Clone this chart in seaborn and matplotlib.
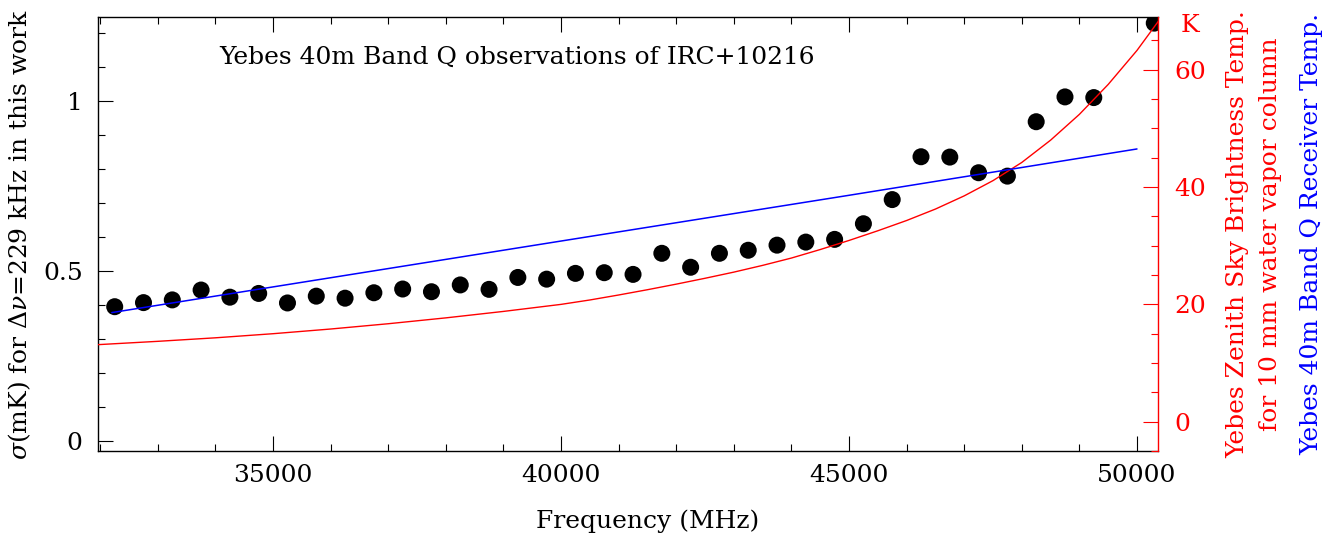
import matplotlib
matplotlib.use("Agg")
import matplotlib.pyplot as plt
import numpy as np
import pandas as pd
import seaborn as sns
from matplotlib.ticker import MultipleLocator, FixedLocator, FuncFormatter

# ---------------- data ----------------
obs_freq = [32250, 32750, 33250, 33750, 34250, 34750, 35250, 35750, 36250, 36750,
            37250, 37750, 38250, 38750, 39250, 39750, 40250, 40750, 41250, 41750,
            42250, 42750, 43250, 43750, 44250, 44750, 45250, 45750, 46250, 46750,
            47250, 47750, 48250, 48750, 49250, 50300]
obs_sigma = [0.395, 0.407, 0.415, 0.444, 0.423, 0.434, 0.406, 0.426, 0.420, 0.436,
             0.447, 0.439, 0.459, 0.446, 0.481, 0.476, 0.493, 0.495, 0.490, 0.552,
             0.511, 0.552, 0.561, 0.576, 0.585, 0.593, 0.639, 0.710, 0.836, 0.835,
             0.789, 0.779, 0.939, 1.012, 1.010, 1.229]

sky_freq = [31900, 33000, 34000, 35000, 36000, 37000, 38000, 39000, 40000, 40500,
            41000, 41500, 42000, 42500, 43000, 43500, 44000, 44500, 45000, 45500,
            46000, 46500, 47000, 47500, 48000, 48500, 49000, 49500, 50000, 50500]
sky_temp = [13.1, 13.7, 14.3, 15.0, 15.8, 16.7, 17.7, 18.8, 20.0, 20.75,
            21.6, 22.5, 23.45, 24.45, 25.5, 26.65, 27.9, 29.35, 30.9, 32.55,
            34.3, 36.25, 38.5, 41.1, 44.2, 48.0, 52.4, 57.5, 63.3, 70.0]

rx_freq = [32200, 40000, 45000, 50000]
rx_temp = [18.6, 30.8, 38.6, 46.5]

x_major_ticks = [35000, 40000, 45000, 50000]
y_left_ticks = [0, 0.5, 1]
y_left_labels = ["0", "0.5", "1"]
y_right_ticks = [0, 20, 40, 60]

title_text = "Yebes 40m Band Q observations of IRC+10216"
xlabel_text = "Frequency (MHz)"
ylabel_text = r"$\sigma$(mK) for $\Delta\nu$=229 kHz in this work"
rlabel1 = "Yebes Zenith Sky Brightness Temp."
rlabel2 = "for 10 mm water vapor column"
rlabel3 = "Yebes 40m Band Q Receiver Temp."

# ---------------- style ----------------
sns.set_style("ticks")
plt.rcParams['font.family'] = ['DejaVu Serif']
plt.rcParams['mathtext.fontset'] = 'dejavuserif'
plt.rcParams['text.color'] = 'black'
plt.rcParams['axes.labelcolor'] = 'black'
FS = 18

W, H = 1335, 540
fig = plt.figure(figsize=(W / 100, H / 100), dpi=100)
L, R, T, B = 98, 1158, 17, 451
ax = fig.add_axes([L / W, 1 - B / H, (R - L) / W, (B - T) / H])
ax2 = ax.twinx()

df_obs = pd.DataFrame({"freq": obs_freq, "sigma": obs_sigma})
df_sky = pd.DataFrame({"freq": sky_freq, "temp": sky_temp})
df_rx = pd.DataFrame({"freq": rx_freq, "temp": rx_temp})

sns.scatterplot(data=df_obs, x="freq", y="sigma", ax=ax, s=150, color="black",
                edgecolor="none", linewidth=0, zorder=3)
sns.lineplot(data=df_sky, x="freq", y="temp", ax=ax2, color="red", lw=1.0)
sns.lineplot(data=df_rx, x="freq", y="temp", ax=ax2, color="blue", lw=1.1)

ax.set_xlim(31960, 50365)
ax.set_ylim(-0.0294, 1.247)
ax2.set_ylim(-5.0, 69.0)

for a in (ax, ax2):
    a.set_xlabel("")
    a.set_ylabel("")

# ticks
ax.xaxis.set_major_locator(FixedLocator(x_major_ticks))
ax.xaxis.set_minor_locator(MultipleLocator(1000))
ax.yaxis.set_major_locator(FixedLocator(y_left_ticks))
ax.yaxis.set_major_formatter(FuncFormatter(
    lambda v, p: y_left_labels[y_left_ticks.index(v)] if v in y_left_ticks else ""))
ax.yaxis.set_minor_locator(MultipleLocator(0.1))
ax.xaxis.set_major_formatter(FuncFormatter(lambda v, p: f"{int(v)}"))

ax.tick_params(which="both", direction="in", top=True, right=False,
               labelsize=FS, colors="black", width=0.8)
ax.tick_params(which="major", length=10.8)
ax.tick_params(which="minor", length=5.0)
ax.tick_params(axis="x", pad=9)
ax.tick_params(axis="y", pad=11)

ax2.yaxis.set_major_locator(FixedLocator(y_right_ticks))
ax2.yaxis.set_minor_locator(MultipleLocator(5))
ax2.tick_params(which="both", direction="in", colors="red", labelsize=FS,
                width=0.8, pad=12)
ax2.tick_params(which="major", length=10.8)
ax2.tick_params(which="minor", length=5.0)

# spines
for s in ("left", "top", "bottom"):
    ax.spines[s].set_color("black")
    ax.spines[s].set_linewidth(1.0)
    ax2.spines[s].set_visible(False)
ax.spines["right"].set_visible(False)
ax2.spines["right"].set_color("red")
ax2.spines["right"].set_linewidth(1.0)

# texts
ax.text((219 - L) / (R - L), (B - 64) / (B - T), title_text, transform=ax.transAxes,
        fontsize=FS, va="baseline", ha="left", color="black")
ax2.text((1190 - L) / (R - L), (B - 26) / (B - T), "K", transform=ax.transAxes,
         fontsize=FS, va="center", ha="center", color="red")

fig.text(648 / W, 1 - 521 / H, xlabel_text, ha="center", va="center", fontsize=FS,
         color="black")
yc = 1 - 234 / H
fig.text(20 / W, yc, ylabel_text, rotation=90, ha="center", va="center", fontsize=FS,
         color="black")
fig.text(1238 / W, yc, rlabel1, rotation=90, ha="center", va="center", fontsize=FS, color="red")
fig.text(1270 / W, yc, rlabel2, rotation=90, ha="center", va="center", fontsize=FS, color="red")
fig.text(1312 / W, yc, rlabel3, rotation=90, ha="center", va="center", fontsize=FS, color="blue")

fig.savefig("out.png", dpi=100, facecolor="white")
